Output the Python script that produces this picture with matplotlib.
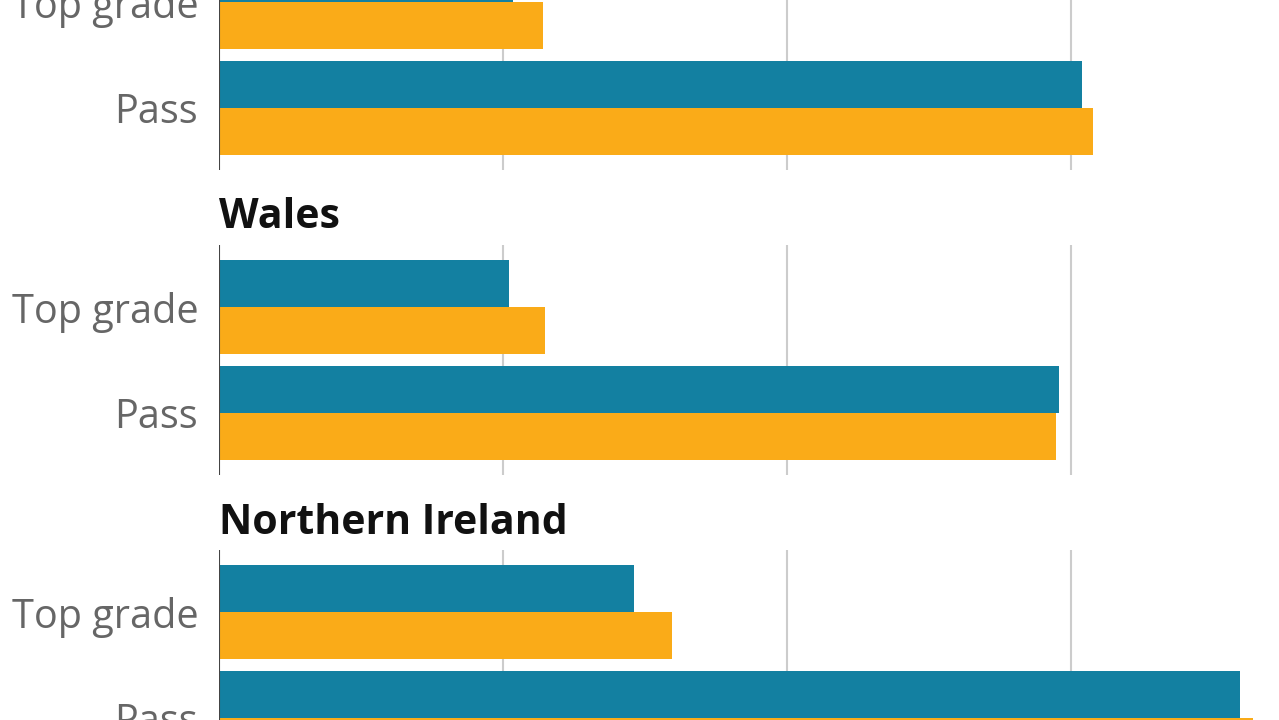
import matplotlib
matplotlib.use('Agg')
import matplotlib.pyplot as plt
import numpy as np

# values in % (gridlines assumed at 25, 50, 75)
measures = ['Top grade', 'Pass']
panels = ['', 'Wales', 'Northern Ireland']
teal_vals = [[25.9, 76.0], [25.5, 73.9], [36.5, 89.9]]
orange_vals = [[28.5, 76.9], [28.7, 73.7], [39.9, 91.0]]

TEAL = '#1380a1'
ORANGE = '#faab18'

W, H = 1279, 720
fig = plt.figure(figsize=(W / 100, H / 100), dpi=100)

left_px = 219
panel_h = 230
period = 305
first_top = -60
bh = 0.445

for i, name in enumerate(panels):
    top = first_top + i * period
    ax = fig.add_axes([left_px / W, 1 - (top + panel_h) / H, (W - left_px) / W, panel_h / H])
    y = np.arange(len(measures))
    ax.barh(y - bh / 2, teal_vals[i], height=bh, color=TEAL, zorder=3)
    ax.barh(y + bh / 2, orange_vals[i], height=bh, color=ORANGE, zorder=3)
    ax.set_xlim(0, 93.3)
    ax.set_ylim(1.585, -0.585)
    for g in [25, 50, 75]:
        ax.axvline(g, color='#cccccc', lw=1.5, zorder=1)
    ax.axvline(0, color='#444444', lw=1.5, zorder=4)
    for s in ax.spines.values():
        s.set_visible(False)
    ax.set_xticks([])
    ax.set_yticks(y)
    ax.set_yticklabels(measures, fontsize=28.5, color='#666666', family='Open Sans')
    ax.tick_params(axis='y', length=0, pad=15)
    if name:
        fig.text(left_px / W, 1 - (top - 27) / H, name, fontsize=29.5, fontweight='bold',
                 family='Open Sans', color='#111111', ha='left', va='center')

fig.savefig('out.png', dpi=100, facecolor='white')
